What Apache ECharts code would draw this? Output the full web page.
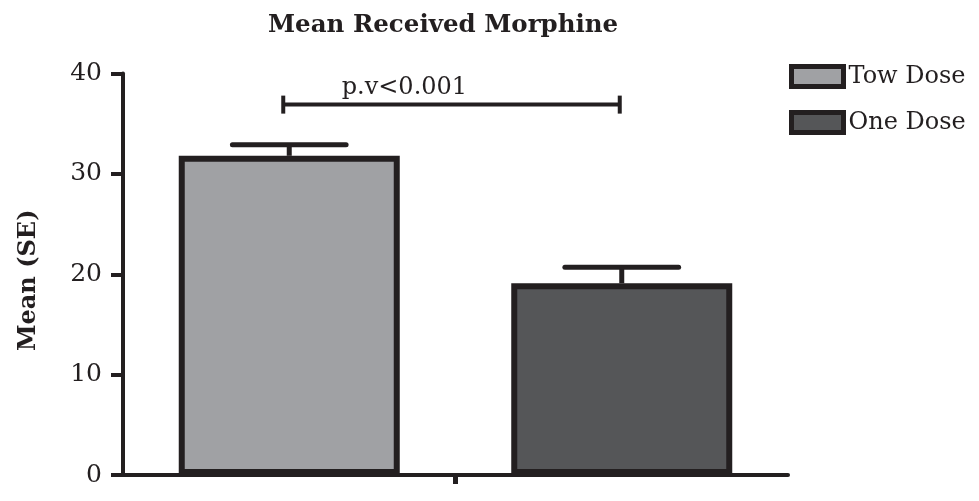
<!DOCTYPE html>
<html><head><meta charset="utf-8">
<script src="https://cdn.jsdelivr.net/npm/echarts@6/dist/echarts.min.js"></script>
<style>html,body{margin:0;padding:0;background:#fff}#c{width:979px;height:501px}</style>
</head><body><div id="c"></div>
<script>
// ---- data ----
const categories = ['Tow Dose', 'One Dose'];
const seriesNames = ['Tow Dose', 'One Dose'];
const means = [31.8, 19.1];
const standardErrors = [1.1, 1.6];
const pLabel = 'p.v<0.001';
const pBracketValue = 36.9;
const yMin = 0, yMax = 40, yStep = 10;
const titleText = 'Mean Received Morphine';
const yAxisName = 'Mean (SE)';

// ---- style ----
const ink = '#231f20';
const fills = ['#a0a1a4', '#555658'];
const font = 'DejaVu Serif';

const chart = echarts.init(document.getElementById('c'));

const barSeries = seriesNames.map((name, si) => ({
  name: name,
  type: 'bar',
  xAxisIndex: 0,
  barWidth: 221,
  barGap: '-100%',
  data: categories.map((c, ci) => ci === si ? means[ci] : '-'),
  itemStyle: { color: fills[si], borderColor: ink, borderWidth: 6 },
  z: 2
}));

const errData = categories.map((c, i) => [i, means[i], standardErrors[i]]);

const errorSeries = {
  type: 'custom',
  xAxisIndex: 0,
  data: errData,
  encode: { x: 0, y: 1 },
  z: 3,
  renderItem: function (params, api) {
    const i = api.value(0), m = api.value(1), e = api.value(2);
    const base = api.coord([i, m]);
    const top = api.coord([i, m + e]);
    const hw = api.size([1, 0])[0] * 0.171;
    const st = { stroke: ink, lineWidth: 5 };
    return {
      type: 'group',
      children: [
        { type: 'line', shape: { x1: top[0], y1: base[1], x2: top[0], y2: top[1] }, style: st },
        { type: 'line', shape: { x1: top[0] - hw, y1: top[1], x2: top[0] + hw, y2: top[1] }, style: Object.assign({ lineCap: 'round' }, st) }
      ]
    };
  }
};

const bracketSeries = {
  type: 'custom',
  xAxisIndex: 0,
  data: [[0, pBracketValue, 1]],
  encode: { x: [0, 2], y: 1 },
  z: 3,
  renderItem: function (params, api) {
    const a = api.coord([api.value(0), api.value(1)]);
    const b = api.coord([api.value(2), api.value(1)]);
    const x0 = a[0] - 6, x1 = b[0] - 2;
    const st = { stroke: ink, lineWidth: 4 };
    return {
      type: 'group',
      children: [
        { type: 'line', shape: { x1: x0, y1: a[1], x2: x1, y2: a[1] }, style: st },
        { type: 'line', shape: { x1: x0, y1: a[1] - 9, x2: x0, y2: a[1] + 9 }, style: st },
        { type: 'line', shape: { x1: x1, y1: a[1] - 9, x2: x1, y2: a[1] + 9 }, style: st },
        { type: 'text', style: { text: pLabel, x: x0 + 0.36 * (x1 - x0), y: a[1] - 5, align: 'center', verticalAlign: 'bottom', fill: ink, font: '24px "' + font + '"' } }
      ]
    };
  }
};

chart.setOption({
  backgroundColor: '#fff',
  animation: false,
  textStyle: { fontFamily: font, color: ink },
  title: {
    text: titleText,
    left: 268, top: 13, padding: 0,
    textStyle: { fontFamily: font, fontWeight: 'bold', fontSize: 24.5, color: ink }
  },
  legend: {
    data: seriesNames,
    orient: 'vertical',
    left: 789, top: 64, padding: 0,
    itemWidth: 52, itemHeight: 20, itemGap: 21,
    icon: 'rect',
    itemStyle: { borderColor: ink, borderWidth: 5 },
    textStyle: { fontFamily: font, fontSize: 24, color: ink, padding: [0, 0, 0, 0] }
  },
  grid: { left: 123, right: 191, top: 73.5, bottom: 26, containLabel: false },
  xAxis: [
    {
      type: 'category', data: categories,
      axisLine: { lineStyle: { color: ink, width: 4 } },
      axisTick: { show: false }, axisLabel: { show: false }, splitLine: { show: false }
    },
    {
      type: 'category', data: [''], position: 'bottom',
      axisLine: { show: false },
      axisTick: { show: true, alignWithLabel: true, length: 9, lineStyle: { color: ink, width: 5 } },
      axisLabel: { show: false }, splitLine: { show: false }
    }
  ],
  yAxis: {
    type: 'value', min: yMin, max: yMax, interval: yStep,
    name: yAxisName, nameLocation: 'middle', nameGap: 82,
    nameTextStyle: { fontFamily: font, fontWeight: 'bold', fontSize: 24, color: ink, padding: [0, 12, 0, 0] },
    axisLine: { show: true, lineStyle: { color: ink, width: 4 } },
    axisTick: { show: true, length: 12, lineStyle: { color: ink, width: 4 } },
    axisLabel: { margin: 21, fontFamily: font, fontSize: 25, color: ink },
    splitLine: { show: false }
  },
  series: barSeries.concat([errorSeries, bracketSeries])
});
</script>
</body></html>
